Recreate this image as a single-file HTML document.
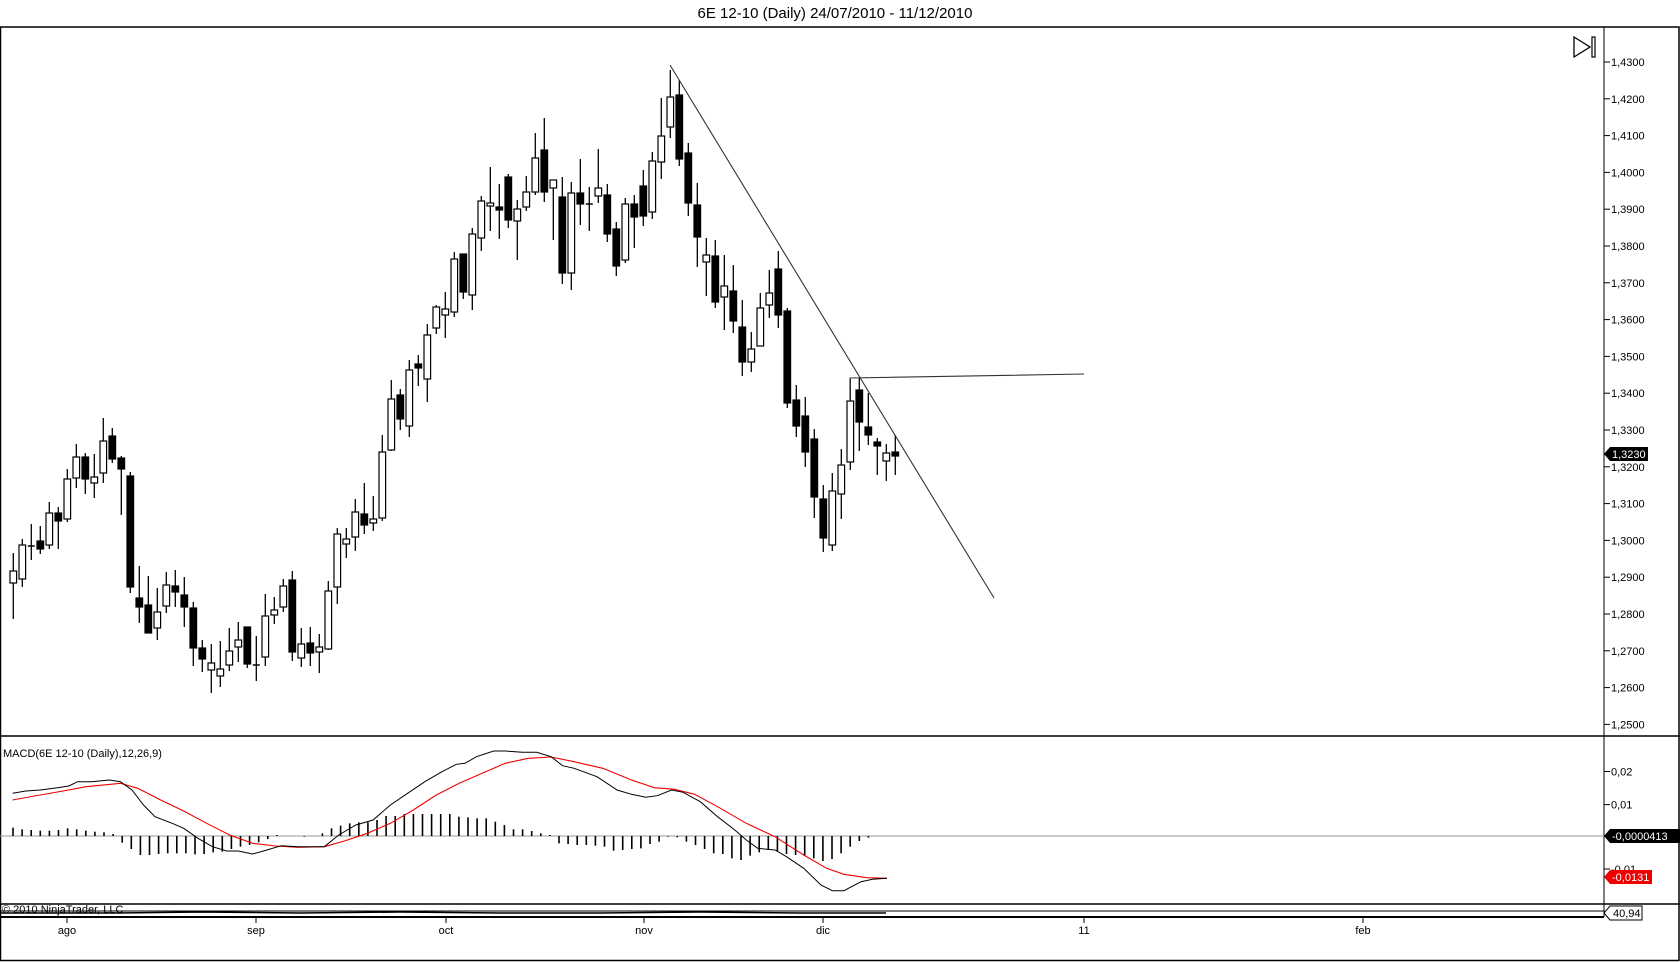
<!DOCTYPE html>
<html><head><meta charset="utf-8"><style>
html,body{margin:0;padding:0;background:#fff;}
svg{display:block;font-family:"Liberation Sans",Arial,sans-serif;}
</style></head><body>
<svg id="s" width="1680" height="962" viewBox="0 0 1680 962" xmlns="http://www.w3.org/2000/svg">
<rect x="0" y="0" width="1680" height="962" fill="#fff"/>
<text x="835" y="18" font-size="15" text-anchor="middle" fill="#000">6E 12-10 (Daily)  24/07/2010 - 11/12/2010</text>
<rect x="0.5" y="27" width="1678.5" height="933.5" fill="none" stroke="#000" stroke-width="1.5"/>
<line x1="0" y1="736" x2="1680" y2="736" stroke="#000" stroke-width="1.5"/>
<line x1="0" y1="904" x2="1680" y2="904" stroke="#000" stroke-width="1.5"/>
<line x1="0" y1="917" x2="1604" y2="917" stroke="#000" stroke-width="2"/>
<line x1="1604" y1="27" x2="1604" y2="917" stroke="#000" stroke-width="1"/>
<line x1="0" y1="836" x2="1604" y2="836" stroke="#999" stroke-width="1"/>
<polygon points="1574,37 1590,47 1574,57" fill="none" stroke="#000" stroke-width="1.3"/>
<rect x="1592" y="37" width="3" height="20" fill="none" stroke="#000" stroke-width="1.2"/>
<g id="g"></g>
<text x="3" y="757" font-size="11" fill="#000">MACD(6E 12-10 (Daily),12,26,9)</text>
<text x="2" y="913" font-size="11" fill="#000">© 2010 NinjaTrader, LLC</text>
</svg>
<script>
var g=document.getElementById('g');var h='';
var labs=['1,4300','1,4200','1,4100','1,4000','1,3900','1,3800','1,3700','1,3600','1,3500','1,3400','1,3300','1,3200','1,3100','1,3000','1,2900','1,2800','1,2700','1,2600','1,2500'];
for(var i=0;i<labs.length;i++){var y=62+i*36.8;h+='<line x1="1604" y1="'+y+'" x2="1610" y2="'+y+'" stroke="#000"/><text x="1611" y="'+(y+4)+'" font-size="11">'+labs[i]+'</text>';}
[['0,02',771.5],['0,01',804.6],['-0,01',869]].forEach(function(a){h+='<line x1="1604" y1="'+a[1]+'" x2="1610" y2="'+a[1]+'" stroke="#000"/><text x="1611" y="'+(a[1]+4)+'" font-size="11">'+a[0]+'</text>';});
var C=[
['W',571,583,553,619],['W',545,579,539,587],['D',546,546,524,560],['B',541,549,526,554],['W',513,545,502,549],['B',513,521,507,549],['W',479,519,469,522],['W',457,478,444,488],['B',457,479,453,494],['W',477,483,454,498],
['W',441,473,418,483],['B',436,459,428,463],['B',458,469,456,515],['B',476,587,472,593],['B',598,607,566,623],['B',605,633,576,633],['W',612,628,588,640],['W',585,606,572,613],['B',586,592,570,607],['B',595,607,577,627],
['B',608,648,602,666],['B',648,659,640,672],['W',663,670,644,693],['W',669,676,641,687],['W',651,665,628,671],['W',640,647,622,662],['B',627,664,627,668],['D',665,665,636,681],['W',616,657,594,666],['W',610,615,597,624],
['W',586,607,579,612],['B',580,652,571,661],['W',644,658,628,667],['B',643,653,627,666],['W',647,652,634,673],['W',591,649,581,650],
['W',534,587,528,604],['W',539,544,528,558],['W',512,537,499,551],['B',514,525,483,534],['W',519,523,496,531],['W',452,518,435,521],['W',399,450,380,451],['B',395,419,389,430],['W',370,426,360,437],['B',364,368,355,386],
['W',335,379,324,402],['W',307,328,305,334],['W',309,315,292,338],['W',259,312,252,317],['B',254,292,254,299],['W',234,295,228,310],['W',201,238,196,251],['W',203,206,167,231],['B',207,210,184,239],['B',177,220,174,228],
['W',209,221,200,260],['W',192,207,176,211],['W',158,192,133,195],['B',150,192,118,202],['W',180,188,180,240],['B',197,273,177,284],['W',193,273,182,290],['B',193,204,159,225],['D',204,204,187,231],['W',188,196,149,203],
['B',195,234,184,242],['B',229,266,222,276],['W',204,260,198,263],['B',204,217,195,248],
['B',186,216,170,226],['W',161,212,152,219],['W',136,162,98,179],['W',97,127,70,138],['B',95,159,80,166],['B',153,203,143,216],['B',205,237,183,267],['W',255,262,238,296],['B',256,302,240,308],['W',286,297,255,330],
['B',291,321,265,333],['B',327,362,300,376],['W',349,362,332,372],['W',308,346,293,346],['W',293,305,270,318],['B',269,315,251,328],['B',311,403,308,408],['B',400,426,385,437],['B',416,452,397,467],['B',439,497,429,518],
['B',499,538,485,552],['W',491,545,473,551],['W',465,494,449,519],['W',401,462,379,470],['B',390,422,378,451],['B',427,435,393,445],['B',442,446,438,475],['W',453,461,444,481],['B',452,456,435,475]];
for(var i=0;i<C.length;i++){var c=C[i],x=13.3+9*i;
h+='<line x1="'+x+'" y1="'+c[3]+'" x2="'+x+'" y2="'+c[4]+'" stroke="#000" stroke-width="1.3"/>';
if(c[0]=='D'){h+='<line x1="'+(x-3.5)+'" y1="'+c[1]+'" x2="'+(x+3.5)+'" y2="'+c[1]+'" stroke="#000" stroke-width="1.5"/>';}
else{var ht=Math.max(c[2]-c[1],2);h+='<rect x="'+(x-3.3)+'" y="'+c[1]+'" width="6.6" height="'+ht+'" fill="'+(c[0]=='B'?'#000':'#fff')+'" stroke="#000" stroke-width="1.2"/>';}}
h+='<line x1="670" y1="65" x2="994" y2="598" stroke="#333" stroke-width="1.1"/>';
h+='<polyline points="850,401 850,378 1084,374" fill="none" stroke="#333" stroke-width="1.1"/>';
h+='<polygon points="1604,454 1610,447 1648,447 1648,461 1610,461" fill="#000"/><text x="1612" y="458" font-size="11" fill="#fff">1,3230</text>';
function P(a){return a.map(function(p){return (p[0]/1.742).toFixed(1)+','+(735+p[1]/3).toFixed(1)}).join(' ');}
var bl=[[22,175],[45,168],[70,165],[100,158],[120,153],[135,140],[160,140],[190,135],[210,140],[230,165],[250,210],[270,245],[300,265],[320,280],[345,310],[370,335],[395,348],[415,348],[440,357],[465,345],[490,332],[520,335],[565,335],[590,300],[620,270],[650,255],[680,210],[710,175],[740,140],[770,110],[795,88],[810,85],[830,65],[860,48],[880,48],[910,52],[935,52],[960,65],[980,92],[1000,100],[1040,125],[1075,165],[1100,178],[1125,187],[1145,182],[1170,165],[1190,172],[1220,200],[1250,245],[1280,285],[1300,315],[1320,340],[1350,345],[1370,365],[1400,400],[1430,450],[1450,467],[1470,467],[1500,440],[1520,433],[1545,430]];
var rd=[[22,195],[60,183],[110,168],[150,155],[210,145],[240,160],[280,195],[320,228],[360,265],[400,300],[440,325],[480,333],[520,337],[565,335],[600,318],[640,295],[680,265],[720,225],[760,180],[800,145],[840,115],[880,85],[920,70],[960,66],[1000,80],[1050,100],[1100,135],[1140,158],[1175,163],[1210,178],[1250,215],[1300,265],[1350,305],[1400,360],[1440,400],[1470,418],[1510,428],[1545,430]];
var hz=[278,283,285,287,287,285,280,283,287,290,292,297,323,342,360,360,357,355,355,355,358,357,352,350,342,335,330,322,312,300,303,303,305,303,295,280,272,265,262,262,255,243,243,237,237,237,237,237,237,245,247,250,250,260,270,283,283,288,295,300,325,327,330,330,332,335,347,345,342,340,327,320,305,307,320,330,342,355,357,370,375,362,352,345,350,357,360,363,370,378,372,355,335,318,308,303];
for(var i=0;i<hz.length;i++){var x=13+9.1*i,y=735+hz[i]/3;h+='<line x1="'+x+'" y1="836" x2="'+x+'" y2="'+y+'" stroke="#000" stroke-width="1.6"/>';}
h+='<polyline points="'+P(rd)+'" fill="none" stroke="#e00" stroke-width="1.1"/>';
h+='<polyline points="'+P(bl)+'" fill="none" stroke="#000" stroke-width="1"/>';
h+='<polygon points="1604,836 1610,829 1680,829 1680,843 1610,843" fill="#000"/><text x="1612" y="840" font-size="11" fill="#fff">-0,0000413</text>';
h+='<polygon points="1604,877 1610,870 1652,870 1652,884 1610,884" fill="#e00"/><text x="1612" y="881" font-size="11" fill="#fff">-0,0131</text>';
h+='<line x1="0" y1="911" x2="1604" y2="911" stroke="#000" stroke-width="1"/>';
h+='<polyline points="0,913 120,913 200,912 300,913 400,912 500,913 600,913 700,912 800,913 886,913" fill="none" stroke="#000" stroke-width="1.5"/>';
h+='<polygon points="1604,913 1610,906 1642,906 1642,920 1610,920" fill="#fff" stroke="#000"/><text x="1613" y="917" font-size="11">40,94</text>';
[['ago',67],['sep',256],['oct',446],['nov',644],['dic',823],['11',1084],['feb',1363]].forEach(function(a){h+='<line x1="'+a[1]+'" y1="917" x2="'+a[1]+'" y2="923" stroke="#000"/><text x="'+a[1]+'" y="934" font-size="11" text-anchor="middle">'+a[0]+'</text>';});
g.innerHTML=h;
</script>
</body></html>
